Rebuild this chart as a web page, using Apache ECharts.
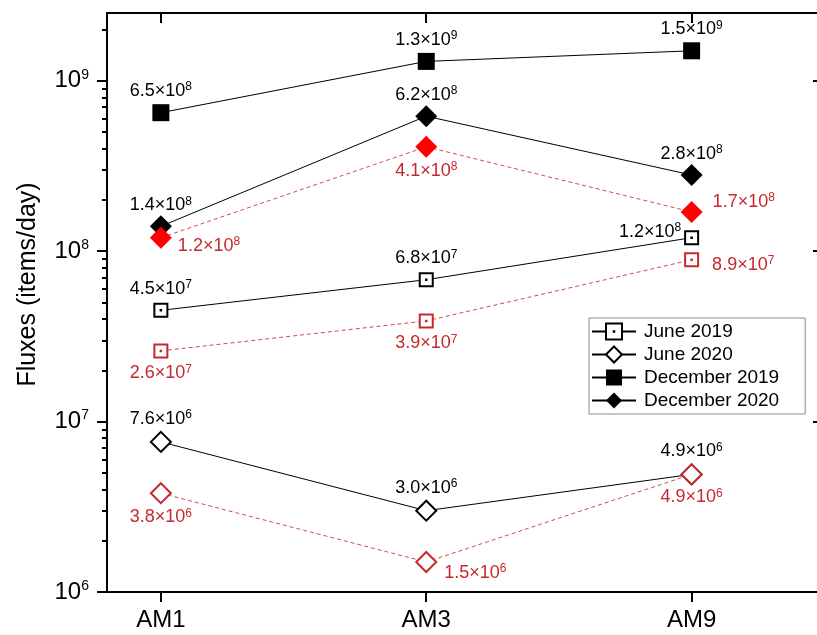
<!DOCTYPE html>
<html><head><meta charset="utf-8">
<script src="https://cdn.jsdelivr.net/npm/echarts@6/dist/echarts.min.js"></script>
<style>html,body{margin:0;padding:0;background:#fff}#c{width:817px;height:635px}</style>
</head><body><div id="c"></div>
<script>
// ---- data ----
const categories = ['AM1', 'AM3', 'AM9'];
const june2019 = [4.5e7, 6.8e7, 1.2e8];
const june2019Red = [2.6e7, 3.9e7, 8.9e7];
const june2020 = [7.6e6, 3.0e6, 4.9e6];
const june2020Red = [3.8e6, 1.5e6, 4.9e6];
const dec2019 = [6.5e8, 1.3e9, 1.5e9];
const dec2020 = [1.4e8, 6.2e8, 2.8e8];
const dec2020Red = [1.2e8, 4.1e8, 1.7e8];
const yMajorTicks = [1e6, 1e7, 1e8, 1e9];
const Y_MIN = 1e6, Y_MAX = 2.5e9;

// ---- styling ----
const FONT = "'Liberation Sans', Arial, sans-serif";
const RED_TEXT = '#c8282d';
const RED_LINE = '#d24a4a';
const yMinorTicks = [];
yMajorTicks.forEach(d => { for (let k = 2; k <= 9; k++) { if (k * d <= Y_MAX) yMinorTicks.push(k * d); } });

// label placements per point: [position, distance, offset]
const place = {
  june2019: [['top', 4, [0, 0]], ['top', 4, [0, 0]], ['left', 3, [0, -6]]],
  june2019Red: [['bottom', 5, [0, 0]], ['bottom', 5, [0, 0]], ['right', 13, [0, 5]]],
  june2020: [['top', 2, [0, 0]], ['top', 2, [0, 0]], ['top', 2, [0, 0]]],
  june2020Red: [['bottom', 3, [0, 0]], ['right', 7, [0, 11]], ['bottom', 2, [0, 0]]],
  dec2019: [['top', 3, [0, 0]], ['top', 3, [0, 0]], ['top', 3, [0, 0]]],
  dec2020: [['top', 0, [0, 0]], ['top', 0, [0, 0]], ['top', 0, [0, 0]]],
  dec2020Red: [['right', 6, [0, 8]], ['bottom', 3, [0, 0]], ['right', 10, [0, -10]]]
};

function sciLabel(p) {
  const v = p.value[1];
  const e = Math.floor(Math.log10(v) + 1e-9);
  const m = (v / Math.pow(10, e)).toFixed(1);
  return '{m|' + m + '×10}{e|' + e + '}';
}

function mk(name, vals, pl, o) {
  return {
    name: name, type: 'line',
    data: vals.map((v, i) => ({
      value: [i, v],
      label: { position: pl[i][0], distance: pl[i][1], offset: pl[i][2] }
    })),
    symbol: o.symbol, symbolSize: o.size,
    itemStyle: o.itemStyle,
    lineStyle: o.lineStyle,
    z: o.z || 2,
    emphasis: { disabled: true },
    label: {
      show: true, formatter: sciLabel,
      rich: {
        m: { fontSize: 18, fontFamily: FONT, color: o.textColor, lineHeight: 20 },
        e: { fontSize: 12, fontFamily: FONT, color: o.textColor, verticalAlign: 'top', lineHeight: 12 }
      }
    }
  };
}

const SQUARE_DOT = 'path://M0,0H10V10H0Z M4.8,4.8H5.2V5.2H4.8Z';
const blackLine = { color: '#000', width: 1, type: 'solid' };
const redLine = { color: RED_LINE, width: 1, type: [4, 3] };

const series = [
  mk('June 2019', june2019, place.june2019, { symbol: SQUARE_DOT, size: 13, itemStyle: { color: '#fff', borderColor: '#000', borderWidth: 2 }, lineStyle: blackLine, textColor: '#000' }),
  mk('June 2020', june2020, place.june2020, { symbol: 'diamond', size: 20, itemStyle: { color: '#fff', borderColor: '#000', borderWidth: 2 }, lineStyle: blackLine, textColor: '#000' }),
  mk('December 2019', dec2019, place.dec2019, { symbol: 'rect', size: 17, itemStyle: { color: '#000', borderWidth: 0 }, lineStyle: blackLine, textColor: '#000' }),
  mk('December 2020', dec2020, place.dec2020, { symbol: 'diamond', size: 22, itemStyle: { color: '#000', borderWidth: 0 }, lineStyle: blackLine, textColor: '#000' }),
  mk('June 2019 (red)', june2019Red, place.june2019Red, { symbol: SQUARE_DOT, size: 13, itemStyle: { color: '#fff', borderColor: RED_TEXT, borderWidth: 2 }, lineStyle: redLine, textColor: RED_TEXT, z: 3 }),
  mk('June 2020 (red)', june2020Red, place.june2020Red, { symbol: 'diamond', size: 20, itemStyle: { color: '#fff', borderColor: RED_TEXT, borderWidth: 2 }, lineStyle: redLine, textColor: RED_TEXT, z: 3 }),
  mk('December 2020 (red)', dec2020Red, place.dec2020Red, { symbol: 'diamond', size: 22, itemStyle: { color: '#ff0000', borderWidth: 0 }, lineStyle: redLine, textColor: RED_TEXT, z: 3 })
];

const X_MIN = -0.203, X_MAX = 2.48;
const axisLineStyle = { color: '#000', width: 2 };
const catIdx = categories.map((c, i) => i);

const option = {
  animation: false,
  backgroundColor: '#fff',
  grid: { left: 107, top: 13, width: 712, bottom: 43, outerBoundsMode: 'none', containLabel: false },
  legend: {
    data: ['June 2019', 'June 2020', 'December 2019', 'December 2020'],
    orient: 'vertical', left: 589, top: 318,
    itemWidth: 44, itemHeight: 20, itemGap: 4,
    borderColor: '#8c8c8c', borderWidth: 1, borderRadius: 0,
    padding: [4, 26, 4, 2],
    selectedMode: false,
    textStyle: { fontSize: 19, fontFamily: FONT, color: '#000', padding: [0, 0, 0, 3] }
  },
  xAxis: [
    {
      type: 'value', min: X_MIN, max: X_MAX, position: 'bottom',
      axisLine: { show: true, onZero: false, lineStyle: axisLineStyle },
      axisTick: { show: true, inside: false, length: 10, lineStyle: { color: '#000', width: 2 }, customValues: catIdx },
      axisLabel: { show: true, customValues: catIdx, formatter: v => categories[Math.round(v)], fontSize: 24, fontFamily: FONT, color: '#000', margin: 16 },
      splitLine: { show: false }
    },
    {
      type: 'value', min: X_MIN, max: X_MAX, position: 'top',
      axisLine: { show: true, onZero: false, lineStyle: axisLineStyle },
      axisTick: { show: true, inside: true, length: 10, lineStyle: { color: '#000', width: 2 }, customValues: catIdx },
      axisLabel: { show: false },
      splitLine: { show: false }
    }
  ],
  yAxis: [
    {
      type: 'log', logBase: 10, min: Y_MIN, max: Y_MAX, position: 'left',
      name: 'Fluxes (items/day)', nameLocation: 'middle', nameGap: 66,
      nameTextStyle: { fontSize: 25, fontFamily: FONT, color: '#000', padding: [0, 0, 0, 36] },
      axisLine: { show: true, onZero: false, lineStyle: axisLineStyle },
      axisTick: { show: true, inside: false, length: 10, lineStyle: { color: '#000', width: 2 }, customValues: yMajorTicks },
      axisLabel: {
        customValues: yMajorTicks, margin: 18,
        formatter: v => '{b|10}{s|' + Math.round(Math.log10(v)) + '}',
        rich: {
          b: { fontSize: 24, fontFamily: FONT, color: '#000', lineHeight: 26 },
          s: { fontSize: 14, fontFamily: FONT, color: '#000', verticalAlign: 'top', lineHeight: 14 }
        }
      },
      splitLine: { show: false }
    },
    {
      type: 'log', logBase: 10, min: Y_MIN, max: Y_MAX, position: 'left',
      axisLine: { show: false, onZero: false },
      axisTick: { show: true, inside: false, length: 5, lineStyle: { color: '#000', width: 2 }, customValues: yMinorTicks },
      axisLabel: { show: false },
      splitLine: { show: false }
    },
    {
      type: 'log', logBase: 10, min: Y_MIN, max: Y_MAX, position: 'right',
      axisLine: { show: true, onZero: false, lineStyle: axisLineStyle },
      axisTick: { show: true, inside: true, length: 6, lineStyle: { color: '#000', width: 2 }, customValues: yMajorTicks },
      axisLabel: { show: false },
      splitLine: { show: false }
    }
  ],
  series: series
};

const chart = echarts.init(document.getElementById('c'), null, { renderer: 'canvas' });
chart.setOption(option);
</script>
</body></html>
